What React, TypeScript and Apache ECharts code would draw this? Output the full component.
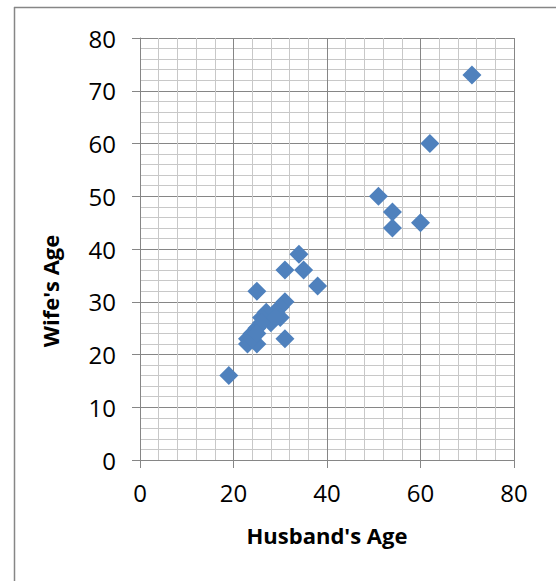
import React, { useEffect, useRef } from "react";
import * as echarts from "echarts";

const husbandAge = [71, 62, 51, 54, 54, 60, 34, 31, 35, 38, 25, 31, 30, 29, 27, 26, 30, 28, 25, 26, 24, 23, 23, 25, 24, 31, 19, 29, 25];
const wifeAge = [73, 60, 50, 47, 44, 45, 39, 36, 36, 33, 32, 30, 29, 28, 28, 27, 27, 26, 25, 26, 24, 23, 22, 22, 23, 23, 16, 27, 24];
const xTicks = { min: 0, max: 80, interval: 20 };
const yTicks = { min: 0, max: 80, interval: 10 };
const xTitle = "Husband's Age";
const yTitle = "Wife's Age";

export default function App() {
  const ref = useRef<HTMLDivElement>(null);
  useEffect(() => {
    if (!ref.current) return;
    const chart = echarts.init(ref.current, undefined, { renderer: "svg" });
    const font = "'Open Sans', 'Liberation Sans', sans-serif";
    const major = "#868686";
    const minor = "#c8c8c8";
    const points = husbandAge.map((h, i) => [h, wifeAge[i]]);
    chart.setOption({
      animation: false,
      backgroundColor: "#ffffff",
      grid: { left: 140, top: 38, width: 374, height: 422, containLabel: false },
      xAxis: {
        type: "value",
        min: xTicks.min,
        max: xTicks.max,
        interval: xTicks.interval,
        name: xTitle,
        nameLocation: "middle",
        nameGap: 64,
        nameTextStyle: { fontFamily: font, fontSize: 22, fontWeight: "bold", color: "#000" },
        axisLine: { show: true, onZero: false, lineStyle: { color: major, width: 1 } },
        axisTick: { show: true, inside: false, length: 8, lineStyle: { color: major } },
        axisLabel: { fontFamily: font, fontSize: 24, color: "#000", margin: 20 },
        splitLine: { show: true, lineStyle: { color: major, width: 1 } },
        minorTick: { show: false, splitNumber: 5 },
        minorSplitLine: { show: true, lineStyle: { color: minor, width: 1 } },
      },
      yAxis: {
        type: "value",
        min: yTicks.min,
        max: yTicks.max,
        interval: yTicks.interval,
        axisLine: { show: true, onZero: false, lineStyle: { color: major, width: 1 } },
        axisTick: { show: true, inside: false, length: 8, lineStyle: { color: major } },
        axisLabel: { fontFamily: font, fontSize: 24, color: "#000", margin: 24 },
        splitLine: { show: true, lineStyle: { color: major, width: 1 } },
        minorTick: { show: false, splitNumber: 5 },
        minorSplitLine: { show: true, lineStyle: { color: minor, width: 1 } },
      },
      graphic: [
        { type: "line", shape: { x1: 14, y1: 7.5, x2: 556, y2: 7.5 }, style: { stroke: major, lineWidth: 1.5 } },
        { type: "line", shape: { x1: 14.5, y1: 7, x2: 14.5, y2: 581 }, style: { stroke: major, lineWidth: 1.5 } },
        { type: "line", shape: { x1: 514.5, y1: 38, x2: 514.5, y2: 460 }, style: { stroke: major, lineWidth: 1 } },
        {
          type: "text",
          x: 50,
          y: 291,
          rotation: Math.PI / 2,
          style: {
            text: yTitle,
            fontFamily: font,
            fontSize: 22,
            fontWeight: "bold",
            fill: "#000",
            align: "center",
            verticalAlign: "middle",
          },
        },
      ],
      series: [
        {
          type: "scatter",
          data: points,
          symbol: "diamond",
          symbolSize: 19,
          itemStyle: { color: "#4f81bd", opacity: 1 },
        },
      ],
    });
    return () => chart.dispose();
  }, []);
  return <div ref={ref} style={{ position: "absolute", left: 0, top: 0, width: 556, height: 581 }} />;
}
